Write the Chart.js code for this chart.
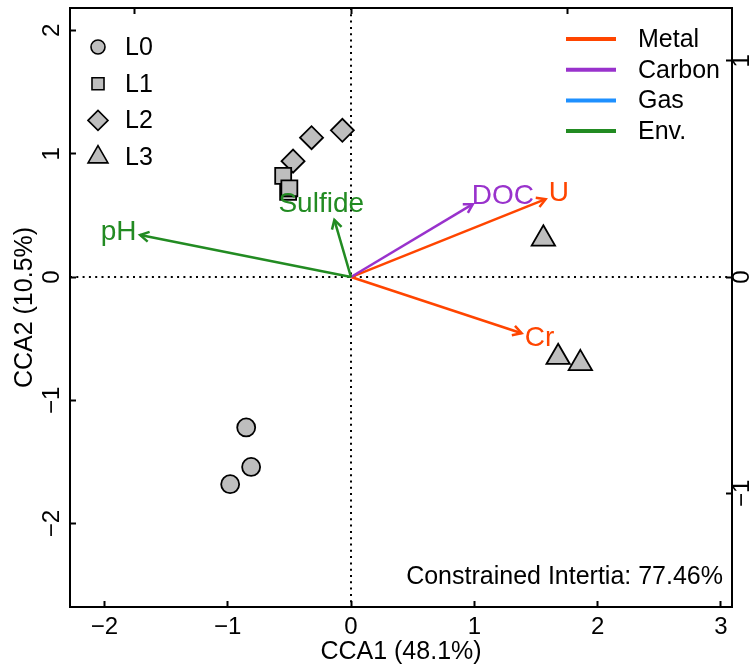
<!DOCTYPE html>
<html lang="en">
<head>
<meta charset="utf-8" />
<script src="https://cdn.jsdelivr.net/npm/chart.js@4.4.1/dist/chart.umd.min.js"></script>
<style>
  html, body { margin: 0; padding: 0; background: #fff; }
  #wrap { width: 755px; height: 671px; }
</style>
<title>CCA biplot</title>
</head>
<body>
<div id="wrap"><canvas id="cca"></canvas></div>
<script>
// site scores (CCA1, CCA2)
const groups = ["L0", "L1", "L2", "L3"];
const l0X = [-0.85, -0.81, -0.98];
const l0Y = [-1.22, -1.54, -1.68];
const l1X = [-0.55, -0.51, -0.50];
const l1Y = [0.82, 0.69, 0.72];
const l2X = [-0.47, -0.32, -0.07];
const l2Y = [0.94, 1.13, 1.19];
const l3X = [1.56, 1.68, 1.86];
const l3Y = [0.31, -0.65, -0.70];

// biplot arrows (right / top axis units)
const arrowNames = ["pH", "Sulfide", "DOC", "U", "Cr"];
const arrowType = ["Env.", "Env.", "Carbon", "Metal", "Metal"];
const arrowX = [-0.975, -0.077, 0.563, 0.90, 0.789];
const arrowY = [0.194, 0.264, 0.337, 0.36, -0.26];
const varTypes = ["Metal", "Carbon", "Gas", "Env."];

// axes
const xTicks = [-2, -1, 0, 1, 2, 3];
const yTicks = [-2, -1, 0, 1, 2];
const arrowTicks = [-1, 0, 1];
const xTitle = "CCA1 (48.1%)";
const yTitle = "CCA2 (10.5%)";
const inertia = "Constrained Intertia: 77.46%";

// styles
const FONT = "'Liberation Sans', Arial, sans-serif";
const typeColours = { "Metal": "#FF4500", "Carbon": "#9932CC", "Gas": "#1E90FF", "Env.": "#228B22" };
const shapes = { L0: "circle", L1: "rect", L2: "rectRot", L3: "triangle" };
const radii = { circle: 9, rect: 11.3, rectRot: 11.5, triangle: 13.5 };
const legendRadii = { circle: 7, rect: 8.5, rectRot: 10, triangle: 11.5 };
const grey = "#BEBEBE";

// plot limits
const xMin = -2.279, xMax = 3.09, yMin = -2.676, yMax = 2.182;
const arrowMul = 1.754; // site units per arrow unit

const siteX = [l0X, l1X, l2X, l3X];
const siteY = [l0Y, l1Y, l2Y, l3Y];

const datasets = [];
arrowNames.forEach((name, i) => {
    datasets.push({
        label: name,
        data: [{ x: 0, y: 0 }, { x: arrowX[i], y: arrowY[i] }],
        xAxisID: "x2", yAxisID: "y2",
        showLine: true,
        borderColor: typeColours[arrowType[i]],
        borderWidth: 2.5,
        pointRadius: 0, pointHoverRadius: 0,
        isArrow: true,
        order: 2
    });
});
groups.forEach((g, i) => {
    datasets.push({
        label: g,
        data: siteX[i].map((x, j) => ({ x: x, y: siteY[i][j] })),
        pointStyle: shapes[g],
        pointRadius: radii[shapes[g]],
        pointHoverRadius: radii[shapes[g]],
        backgroundColor: grey,
        borderColor: "#000",
        borderWidth: 1.8,
        order: 1
    });
});

function minus(v) { return v < 0 ? "\u2212" + Math.abs(v) : String(v); }

function shape(ctx, style, x, y, r) {
    ctx.beginPath();
    if (style === "circle") {
        ctx.arc(x, y, r, 0, Math.PI * 2);
    } else if (style === "rect") {
        const s = r * Math.SQRT1_2;
        ctx.rect(x - s, y - s, 2 * s, 2 * s);
    } else if (style === "rectRot") {
        ctx.moveTo(x - r, y); ctx.lineTo(x, y - r); ctx.lineTo(x + r, y); ctx.lineTo(x, y + r);
        ctx.closePath();
    } else {
        ctx.moveTo(x, y - r);
        ctx.lineTo(x + Math.sin(2 * Math.PI / 3) * r, y + r / 2);
        ctx.lineTo(x - Math.sin(2 * Math.PI / 3) * r, y + r / 2);
        ctx.closePath();
    }
    ctx.fill();
    ctx.stroke();
}

const biplot = {
    id: "biplot",
    beforeDatasetsDraw(chart) {
        const { ctx, chartArea: a, scales } = chart;
        const x0 = scales.x.getPixelForValue(0);
        const y0 = scales.y.getPixelForValue(0);
        ctx.save();
        ctx.strokeStyle = "#000";
        ctx.lineWidth = 2;
        ctx.setLineDash([2, 4.3]);
        ctx.beginPath();
        ctx.moveTo(x0, a.top); ctx.lineTo(x0, a.bottom);
        ctx.moveTo(a.left, y0); ctx.lineTo(a.right, y0);
        ctx.stroke();
        ctx.restore();
    },
    afterDatasetsDraw(chart) {
        const { ctx, chartArea: a } = chart;
        ctx.save();
        // arrow heads and labels
        chart.data.datasets.forEach((ds, i) => {
            if (!ds.isArrow) return;
            const pts = chart.getDatasetMeta(i).data;
            const ox = pts[0].x, oy = pts[0].y, tx = pts[1].x, ty = pts[1].y;
            const ang = Math.atan2(ty - oy, tx - ox);
            const len = 10, spread = Math.PI / 6;
            ctx.strokeStyle = ds.borderColor;
            ctx.lineWidth = 2.5;
            ctx.lineJoin = "miter";
            ctx.beginPath();
            ctx.moveTo(tx - len * Math.cos(ang - spread), ty - len * Math.sin(ang - spread));
            ctx.lineTo(tx, ty);
            ctx.lineTo(tx - len * Math.cos(ang + spread), ty - len * Math.sin(ang + spread));
            ctx.stroke();

            ctx.font = "28px " + FONT;
            ctx.fillStyle = ds.borderColor;
            ctx.textAlign = "center";
            ctx.textBaseline = "middle";
            const w = ctx.measureText(ds.label).width, h = 24;
            const ux = Math.cos(ang), uy = Math.sin(ang);
            ctx.fillText(ds.label, tx + ux * (w / 2 + 4), ty + uy * (h / 2 + 4));
        });

        // site legend
        ctx.font = "25px " + FONT;
        ctx.textAlign = "left";
        ctx.textBaseline = "middle";
        groups.forEach((g, i) => {
            const y = a.top + 39 + i * 36.7;
            ctx.fillStyle = grey;
            ctx.strokeStyle = "#000";
            ctx.lineWidth = 1.6;
            shape(ctx, shapes[g], a.left + 28, y, legendRadii[shapes[g]]);
            ctx.fillStyle = "#000";
            ctx.fillText(g, a.left + 55, y + 1);
        });

        // variable type legend
        varTypes.forEach((t, i) => {
            const y = a.top + 31 + i * 30.7;
            ctx.strokeStyle = typeColours[t];
            ctx.lineWidth = 4;
            ctx.beginPath();
            ctx.moveTo(a.right - 166, y); ctx.lineTo(a.right - 116, y);
            ctx.stroke();
            ctx.fillStyle = "#000";
            ctx.fillText(t, a.right - 94, y + 1);
        });

        // inertia note
        ctx.textAlign = "right";
        ctx.fillText(inertia, a.right - 9, a.bottom - 30);
        ctx.restore();
    }
};

function fixSize(prop, size) {
    return (s) => {
        s[prop] = size;
        s.paddingTop = 0; s.paddingBottom = 0; s.paddingLeft = 0; s.paddingRight = 0;
    };
}

const tickFont = { family: FONT, size: 24 };
const titleFont = { family: FONT, size: 25 };
const gridOpts = { display: true, drawOnChartArea: false, drawTicks: true, tickLength: -6, tickWidth: 2, tickColor: "#000" };
const borderOpts = { display: true, color: "#000", width: 2 };

new Chart(document.getElementById("cca").getContext("2d"), {
    type: "scatter",
    data: { datasets: datasets },
    options: {
        responsive: true,
        maintainAspectRatio: false,
        animation: false,
        devicePixelRatio: 1,
        layout: { padding: 0, autoPadding: false },
        plugins: { legend: { display: false }, tooltip: { enabled: false } },
        scales: {
            x: {
                type: "linear", position: "bottom", min: xMin, max: xMax,
                afterBuildTicks: (s) => { s.ticks = xTicks.map((v) => ({ value: v })); },
                afterFit: fixSize("height", 64),
                ticks: { autoSkip: false, maxRotation: 0, padding: 12, color: "#000", font: tickFont, callback: minus },
                grid: gridOpts, border: borderOpts,
                title: { display: true, text: xTitle, color: "#000", font: titleFont, padding: { top: 0, bottom: 4 } }
            },
            y: {
                type: "linear", position: "left", min: yMin, max: yMax,
                afterBuildTicks: (s) => { s.ticks = yTicks.map((v) => ({ value: v })); },
                afterFit: fixSize("width", 70),
                ticks: { autoSkip: false, minRotation: 90, maxRotation: 90, crossAlign: "center", padding: 10, color: "#000", font: tickFont, callback: minus },
                grid: gridOpts, border: borderOpts,
                title: { display: true, text: yTitle, color: "#000", font: titleFont, padding: { top: 10, bottom: 0 } }
            },
            x2: {
                type: "linear", position: "top", min: xMin / arrowMul, max: xMax / arrowMul,
                afterBuildTicks: (s) => { s.ticks = arrowTicks.map((v) => ({ value: v })); },
                afterFit: fixSize("height", 8),
                ticks: { display: false },
                grid: gridOpts, border: borderOpts
            },
            y2: {
                type: "linear", position: "right", min: yMin / arrowMul, max: yMax / arrowMul,
                afterBuildTicks: (s) => { s.ticks = arrowTicks.map((v) => ({ value: v })); },
                afterFit: fixSize("width", 23),
                ticks: { autoSkip: false, minRotation: 90, maxRotation: 90, crossAlign: "center", padding: 3, color: "#000", font: tickFont, callback: minus },
                grid: gridOpts, border: borderOpts
            }
        }
    },
    plugins: [biplot]
});
</script>
</body>
</html>
